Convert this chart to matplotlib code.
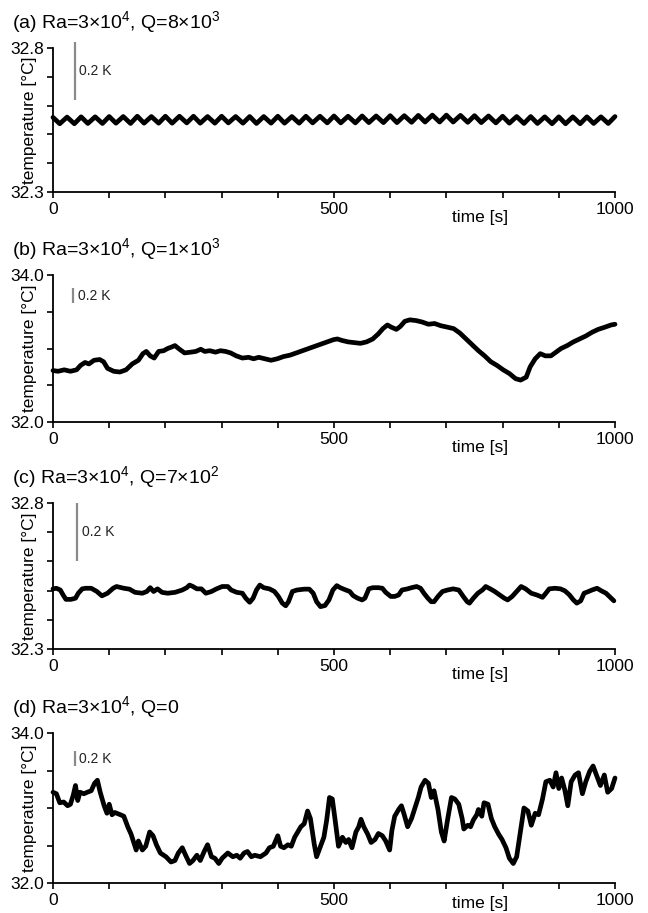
import matplotlib
matplotlib.use("Agg")
import matplotlib.pyplot as plt
from matplotlib.ticker import FixedLocator, FuncFormatter

plt.rcParams["font.family"] = ["Liberation Sans", "DejaVu Sans"]
plt.rcParams["mathtext.fontset"] = "custom"
plt.rcParams["mathtext.rm"] = "Liberation Sans"
plt.rcParams["mathtext.it"] = "Liberation Sans:italic"
plt.rcParams["mathtext.bf"] = "Liberation Sans:bold"

# ---------------------------------------------------------------- data
titles = [
    "(a) Ra=3×10$^4$, Q=8×10$^3$",
    "(b) Ra=3×10$^4$, Q=1×10$^3$",
    "(c) Ra=3×10$^4$, Q=7×10$^2$",
    "(d) Ra=3×10$^4$, Q=0",
]
y_limits = [(32.3, 32.8), (32.0, 34.0), (32.3, 32.8), (32.0, 34.0)]
y_steps = [0.1, 0.5, 0.1, 0.5]
x_ticks = [0, 100, 200, 300, 400, 500, 600, 700, 800, 900, 1000]
x_labelled = [0, 500, 1000]

# 0.2 K scale bars: (time, lower end, upper end)
bar_time = [39, 36, 43, 39]
bar_low = [32.62, 33.62, 32.60, 33.56]
bar_high = [32.82, 33.82, 32.80, 33.76]
bar_text = "0.2 K"

# (a) Q = 8e3: regular small oscillation
a_time = [0, 12, 25, 38, 50, 62, 75, 88, 100, 112, 125, 138, 150, 162, 175, 188,
          200, 212, 225, 238, 250, 262, 275, 288, 300, 312, 325, 338, 350, 362, 375, 388,
          400, 412, 425, 438, 450, 462, 475, 488, 500, 512, 525, 538, 550, 562, 575, 588,
          600, 612, 625, 638, 650, 662, 675, 688, 700, 712, 725, 738, 750, 762, 775, 788,
          800, 812, 825, 838, 850, 862, 875, 888, 900, 912, 925, 938, 950, 962, 975, 988,
          1000]
a_temp = [32.559, 32.537, 32.560, 32.537, 32.561, 32.538, 32.561, 32.538,
          32.562, 32.539, 32.562, 32.538, 32.563, 32.539, 32.562, 32.539,
          32.563, 32.539, 32.563, 32.540, 32.563, 32.539, 32.562, 32.539,
          32.563, 32.540, 32.562, 32.539, 32.562, 32.538, 32.562, 32.539,
          32.563, 32.539, 32.562, 32.539, 32.563, 32.540, 32.563, 32.540,
          32.564, 32.540, 32.563, 32.540, 32.564, 32.541, 32.564, 32.541,
          32.565, 32.541, 32.565, 32.542, 32.566, 32.543, 32.567, 32.543,
          32.567, 32.543, 32.566, 32.542, 32.565, 32.541, 32.564, 32.540,
          32.563, 32.539, 32.562, 32.538, 32.562, 32.538, 32.561, 32.537,
          32.561, 32.537, 32.561, 32.537, 32.561, 32.538, 32.561, 32.538,
          32.562]

# (b) Q = 1e3: slow drift
b_time = [0, 9, 20, 31, 42, 49, 57, 64, 73, 83,
          90, 97, 108, 119, 130, 141, 152, 160, 166, 173,
          180, 188, 197, 204, 211, 217, 225, 234, 245, 254,
          263, 270, 279, 289, 298, 307, 316, 326, 337, 348,
          357, 366, 377, 388, 399, 410, 422, 433, 444, 455,
          466, 477, 488, 499, 506, 514, 525, 536, 547, 558,
          569, 579, 587, 595, 602, 611, 618, 626, 635, 646,
          657, 668, 679, 690, 702, 713, 724, 735, 746, 757,
          768, 779, 790, 801, 812, 823, 832, 842, 849, 858,
          867, 876, 886, 895, 904, 915, 926, 937, 948, 959,
          970, 982, 993, 1000]
b_temp = [32.70, 32.69, 32.71, 32.69, 32.71, 32.77, 32.81, 32.79, 32.84, 32.85,
          32.82, 32.73, 32.69, 32.68, 32.71, 32.79, 32.84, 32.93, 32.96, 32.90,
          32.87, 32.96, 32.97, 33.00, 33.02, 33.04, 32.99, 32.94, 32.95, 32.96,
          32.99, 32.96, 32.97, 32.95, 32.97, 32.96, 32.94, 32.90, 32.87, 32.88,
          32.86, 32.88, 32.86, 32.84, 32.86, 32.89, 32.91, 32.94, 32.97, 33.00,
          33.03, 33.06, 33.09, 33.12, 33.13, 33.11, 33.09, 33.08, 33.07, 33.09,
          33.13, 33.20, 33.27, 33.32, 33.29, 33.26, 33.30, 33.37, 33.39, 33.38,
          33.36, 33.33, 33.34, 33.31, 33.29, 33.27, 33.21, 33.13, 33.05, 32.97,
          32.90, 32.82, 32.77, 32.71, 32.66, 32.59, 32.57, 32.61, 32.75, 32.86,
          32.93, 32.90, 32.90, 32.95, 33.00, 33.04, 33.09, 33.13, 33.17, 33.22,
          33.26, 33.29, 33.32, 33.33]

# (c) Q = 7e2: irregular small fluctuations
c_time = [0, 6, 13, 18, 23, 32, 40, 45, 52, 58,
          68, 78, 87, 97, 107, 113, 126, 136, 146, 159,
          167, 173, 179, 186, 194, 204, 217, 230, 238, 243,
          249, 256, 264, 272, 282, 291, 301, 311, 317, 327,
          337, 343, 350, 356, 362, 368, 375, 385, 394, 401,
          408, 414, 419, 426, 434, 447, 456, 463, 469, 476,
          484, 491, 498, 505, 511, 521, 528, 534, 542, 550,
          555, 562, 569, 579, 586, 592, 601, 608, 615, 621,
          631, 638, 647, 654, 660, 667, 673, 678, 685, 693,
          702, 712, 722, 730, 737, 741, 748, 756, 764, 770,
          778, 786, 795, 803, 809, 817, 825, 833, 841, 851,
          861, 871, 877, 883, 893, 903, 911, 919, 926, 932,
          939, 945, 953, 959, 968, 976, 984, 990, 998]
c_temp = [32.506, 32.508, 32.502, 32.485, 32.470, 32.470, 32.474, 32.491, 32.506, 32.508,
          32.508, 32.497, 32.482, 32.491, 32.508, 32.514, 32.508, 32.505, 32.494, 32.491,
          32.497, 32.510, 32.497, 32.506, 32.494, 32.491, 32.494, 32.502, 32.510, 32.519,
          32.514, 32.506, 32.506, 32.491, 32.497, 32.506, 32.514, 32.514, 32.502, 32.494,
          32.491, 32.474, 32.460, 32.474, 32.502, 32.519, 32.510, 32.506, 32.497, 32.480,
          32.457, 32.448, 32.462, 32.497, 32.502, 32.505, 32.505, 32.491, 32.462, 32.445,
          32.449, 32.468, 32.502, 32.517, 32.510, 32.502, 32.497, 32.483, 32.474, 32.468,
          32.474, 32.506, 32.510, 32.510, 32.508, 32.494, 32.480, 32.480, 32.485, 32.502,
          32.506, 32.510, 32.514, 32.508, 32.491, 32.474, 32.462, 32.462, 32.480, 32.497,
          32.502, 32.506, 32.502, 32.480, 32.462, 32.457, 32.474, 32.491, 32.502, 32.514,
          32.506, 32.497, 32.485, 32.474, 32.468, 32.480, 32.497, 32.514, 32.506, 32.491,
          32.485, 32.477, 32.491, 32.506, 32.508, 32.506, 32.499, 32.485, 32.468, 32.457,
          32.465, 32.491, 32.497, 32.502, 32.508, 32.499, 32.491, 32.480, 32.465]

# (d) Q = 0: strong irregular fluctuations
d_time = [0, 6, 12, 19, 26, 31, 36, 40, 44, 48,
          55, 61, 68, 74, 79, 84, 91, 96, 100, 105,
          110, 120, 126, 133, 139, 148, 152, 159, 165, 172,
          178, 184, 191, 201, 210, 217, 223, 230, 236, 243,
          249, 256, 262, 269, 275, 282, 288, 295, 301, 311,
          320, 327, 333, 340, 346, 353, 359, 369, 379, 385,
          392, 400, 405, 411, 418, 424, 430, 437, 441, 447,
          453, 458, 465, 469, 476, 482, 487, 492, 497, 502,
          508, 515, 521, 526, 532, 539, 544, 548, 553, 560,
          566, 573, 579, 586, 592, 599, 603, 608, 615, 620,
          625, 631, 638, 644, 650, 655, 662, 668, 673, 678,
          685, 691, 696, 702, 709, 715, 722, 728, 731, 738,
          743, 748, 754, 757, 763, 767, 774, 780, 786, 793,
          799, 806, 812, 819, 825, 832, 838, 845, 851, 858,
          864, 871, 877, 884, 890, 895, 900, 905, 911, 916,
          922, 929, 935, 942, 948, 955, 961, 968, 974, 981,
          987, 994, 1000]
d_temp = [33.21, 33.19, 33.07, 33.08, 33.03, 33.05, 33.17, 33.30, 33.10, 33.21,
          33.19, 33.21, 33.23, 33.33, 33.37, 33.21, 33.03, 32.93, 33.05, 32.91,
          32.94, 32.91, 32.89, 32.75, 32.65, 32.44, 32.56, 32.44, 32.49, 32.68,
          32.63, 32.51, 32.40, 32.35, 32.28, 32.30, 32.40, 32.47, 32.37, 32.26,
          32.30, 32.37, 32.30, 32.42, 32.51, 32.35, 32.33, 32.26, 32.33, 32.40,
          32.35, 32.37, 32.33, 32.40, 32.42, 32.35, 32.37, 32.35, 32.40, 32.47,
          32.49, 32.63, 32.49, 32.47, 32.51, 32.49, 32.61, 32.70, 32.75, 32.79,
          32.96, 32.86, 32.51, 32.35, 32.49, 32.61, 32.84, 33.14, 33.12, 32.84,
          32.49, 32.61, 32.54, 32.58, 32.47, 32.68, 32.75, 32.85, 32.75, 32.65,
          32.54, 32.58, 32.66, 32.63, 32.56, 32.44, 32.70, 32.89, 32.98, 33.03,
          32.91, 32.75, 32.86, 33.00, 33.14, 33.28, 33.37, 33.33, 33.14, 33.23,
          32.98, 32.68, 32.56, 32.84, 33.14, 33.12, 33.05, 32.86, 32.72, 32.77,
          32.75, 32.84, 32.91, 32.98, 32.89, 33.07, 33.05, 32.86, 32.75, 32.65,
          32.58, 32.47, 32.33, 32.26, 32.35, 32.70, 33.00, 32.96, 32.77, 32.93,
          32.91, 33.12, 33.35, 33.37, 33.28, 33.47, 33.26, 33.40, 33.23, 33.03,
          33.35, 33.44, 33.47, 33.19, 33.35, 33.49, 33.56, 33.42, 33.30, 33.44,
          33.21, 33.26, 33.40]

series_time = [a_time, b_time, c_time, d_time]
series_temp = [a_temp, b_temp, c_temp, d_temp]

# ---------------------------------------------------------------- figure
W, H = 648, 913
fig = plt.figure(figsize=(W / 100, H / 100), dpi=100)

# panel frames in pixels: (top, bottom)
frames = [(48, 192), (275, 422), (503, 649), (733, 883)]
left_px, right_px = 53, 615
time_label_offset = [-18, -18, -18, -15]

for i, (top, bot) in enumerate(frames):
    ax = fig.add_axes([left_px / W, 1 - bot / H,
                       (right_px - left_px) / W, (bot - top) / H])
    ax.plot(series_time[i], series_temp[i], color="black", lw=3.4,
            solid_joinstyle="round", solid_capstyle="round", clip_on=False)

    lo, hi = y_limits[i]
    ax.set_xlim(0, 1000)
    ax.set_ylim(lo, hi)
    n = int(round((hi - lo) / y_steps[i]))
    yt = [lo + k * y_steps[i] for k in range(n + 1)]
    ax.yaxis.set_major_locator(FixedLocator(yt))
    ax.yaxis.set_major_formatter(FuncFormatter(
        lambda v, p, lo=lo, hi=hi: f"{v:.1f}" if (abs(v - lo) < 1e-6 or abs(v - hi) < 1e-6) else ""))
    ax.xaxis.set_major_locator(FixedLocator(x_ticks))
    ax.xaxis.set_major_formatter(FuncFormatter(
        lambda v, p: f"{int(round(v))}" if int(round(v)) in x_labelled else ""))

    for s in ("top", "right"):
        ax.spines[s].set_visible(False)
    for s in ("left", "bottom"):
        ax.spines[s].set_linewidth(1.3)
    ax.tick_params(direction="out", length=4.5, width=1.2, labelsize=12.5,
                   colors="black")
    ax.tick_params(axis="y", pad=2.0)
    ax.tick_params(axis="x", pad=2.5)

    # 0.2 K scale bar
    ax.plot([bar_time[i], bar_time[i]], [bar_low[i], bar_high[i]],
            color="#8a8a8a", lw=1.6, clip_on=False, solid_capstyle="butt")
    ax.text(bar_time[i] + 8, (bar_low[i] + bar_high[i]) / 2, bar_text,
            fontsize=10, color="#222222", ha="left", va="center")

    ax.text(-0.041, 0.5, "temperature [°C]", transform=ax.transAxes,
            rotation=90, ha="center", va="center", fontsize=12.5)
    ax.annotate("time [s]", xy=(760, 0), xycoords=("data", "axes fraction"),
                xytext=(0, time_label_offset[i]), textcoords="offset points",
                ha="center", va="center", fontsize=12.5)

    title_y = top - 26
    fig.text(12 / W, 1 - title_y / H, titles[i], ha="left", va="center",
             fontsize=14)

fig.savefig("out.png", dpi=100)
